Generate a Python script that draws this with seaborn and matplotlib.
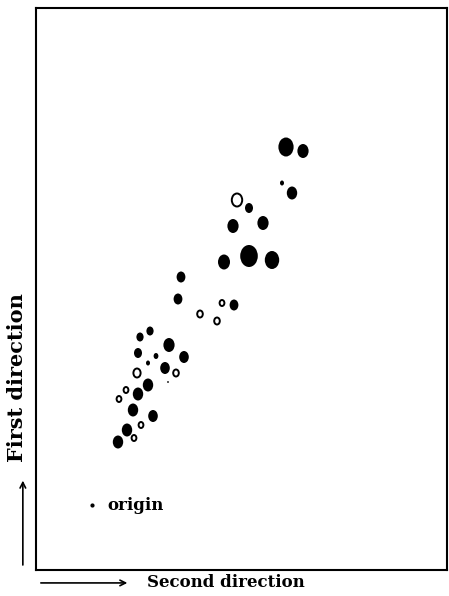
import numpy as np
import pandas as pd
import matplotlib
matplotlib.use("Agg")
import matplotlib.pyplot as plt
import seaborn as sns
from matplotlib.path import Path
from matplotlib.transforms import Affine2D

# positions (second direction, first direction)
filled_x = [25.0, 26.7, 24.6, 25.6, 21.3, 19.7, 22.7, 18.8, 21.3, 23.6,
            14.5, 14.2, 19.8, 11.4, 10.4, 13.3, 10.2, 12.0, 14.8, 11.2,
            12.9, 13.2, 11.2, 10.2, 9.7, 11.7, 9.1, 8.2]
filled_y = [42.3, 41.9, 38.7, 37.7, 36.2, 34.4, 34.7, 30.8, 31.4, 31.0,
            29.3, 27.1, 26.5, 23.9, 23.3, 22.5, 21.7, 21.4, 21.3, 20.7,
            20.2, 18.8, 18.5, 17.6, 16.0, 15.4, 14.0, 12.8]
filled_blob = [19, 14, 5, 13, 10, 14, 14, 15, 22, 18,
               11, 11, 11, 9, 9, 14, 10, 6, 12, 5,
               12, 2, 13, 13, 13, 12, 13, 13]

open_x = [20.1, 18.6, 16.4, 18.1, 10.1, 14.0, 9.0, 8.3, 10.5, 9.8]
open_y = [37.0, 26.7, 25.6, 24.9, 19.7, 19.7, 18.0, 17.1, 14.5, 13.2]
open_blob = [13, 6, 7, 7, 9, 7, 6, 6, 6, 6]

origin_xy = (5.6, 6.5)

filled = pd.DataFrame({"x": filled_x, "y": filled_y, "blob": filled_blob})
hollow = pd.DataFrame({"x": open_x, "y": open_y, "blob": open_blob})

# slightly tall ellipse as marker
ellipse = Affine2D().scale(0.8, 1.0).transform_path(Path.unit_circle())


def area_map(values):
    return {v: (0.72 * v) ** 2 for v in sorted(set(values))}


sns.set_style("white")
plt.rcParams["text.color"] = "black"
fig = plt.figure(figsize=(4.49, 5.96), dpi=100)
ax = fig.add_axes([36 / 449, 26 / 596, 411 / 449, 562 / 596])

sns.scatterplot(data=filled, x="x", y="y", size="blob", sizes=area_map(filled_blob),
                marker=ellipse, color="black", edgecolor="black", linewidth=0,
                legend=False, ax=ax)
sns.scatterplot(data=hollow, x="x", y="y", size="blob", sizes=area_map(open_blob),
                marker=ellipse, color="white", edgecolor="black", linewidth=1.4,
                legend=False, ax=ax)
ax.scatter([origin_xy[0]], [origin_xy[1]], s=4, color="black", marker="o")
ax.text(origin_xy[0] + 1.5, origin_xy[1], "origin", family="DejaVu Serif",
        fontweight="bold", fontsize=12, ha="left", va="center", color="black")

ax.set_xlim(0, 41.1)
ax.set_ylim(0, 56.2)
ax.set_xticks([])
ax.set_yticks([])
ax.set_xlabel("")
ax.set_ylabel("")
for s in ax.spines.values():
    s.set_visible(True)
    s.set_color("black")
    s.set_linewidth(1.5)

# direction arrows and labels outside the frame
ax.annotate("", xy=(0.229, -0.023), xytext=(0.005, -0.023), xycoords="axes fraction",
            arrowprops=dict(arrowstyle="->", color="black", lw=1.2), annotation_clip=False)
ax.text(0.462, -0.023, "Second direction", transform=ax.transAxes, family="DejaVu Serif",
        fontweight="bold", fontsize=12, ha="center", va="center", color="black")
ax.annotate("", xy=(-0.032, 0.164), xytext=(-0.032, 0.004), xycoords="axes fraction",
            arrowprops=dict(arrowstyle="->", color="black", lw=1.2), annotation_clip=False)
ax.text(-0.047, 0.342, "First direction", transform=ax.transAxes, family="DejaVu Serif",
        fontweight="bold", fontsize=15, ha="center", va="center", rotation=90,
        color="black")

fig.savefig("out.png", dpi=100)
